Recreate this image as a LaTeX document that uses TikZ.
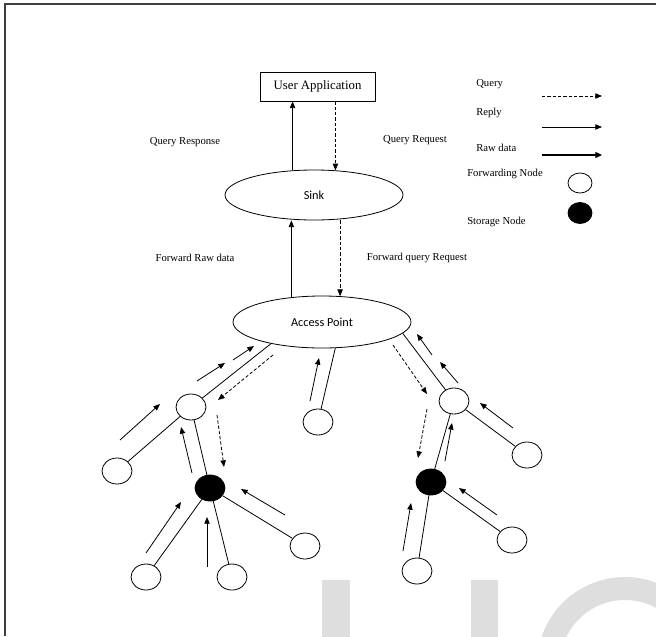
\documentclass[tikz,border=0pt]{standalone}
\usepackage{fontspec}
\setmainfont{Liberation Serif}
\newfontfamily\calib{Carlito}
\usetikzlibrary{shapes.geometric,arrows.meta,calc}
\definecolor{wm}{HTML}{DEDEDE}
\begin{document}
\begin{tikzpicture}[x=0.75pt,y=-0.75pt,
  lab/.style={font=\fontsize{8}{9}\selectfont, inner sep=0},
  fwd/.style={ellipse, draw, line width=0.6pt, minimum width=22.5pt, minimum height=19.5pt, inner sep=0},
  sto/.style={fwd, fill=black},
  edge/.style={line width=0.6pt},
  reply/.style={line width=0.6pt, -{Triangle[length=5pt,width=4pt]}},
  rawd/.style={line width=0.9pt, -{Triangle[length=5pt,width=4.5pt]}},
  query/.style={reply, dash pattern=on 2.5pt off 1.5pt},
  bigell/.style={ellipse, draw, line width=0.6pt, inner sep=0, font=\calib\fontsize{9.2}{11}\selectfont},
]
\useasboundingbox (0,0) rectangle (656,636);
% watermark
\begin{scope}
\clip (0,0) rectangle (656,636);
\fill[wm] (322,580) rectangle (350,640);
\fill[wm] (471,580) rectangle (498,640);
\fill[wm, even odd rule] (625,665) circle[radius=88] (625,665) circle[radius=65];
\end{scope}
% frame
\draw[line width=1.5pt, black!75] (4.5,636) -- (4.5,3.5) -- (656,3.5);

% main nodes
\node[draw, line width=0.6pt, minimum width=86.25pt, minimum height=21.75pt, inner sep=0,
      font=\fontsize{9.6}{11}\selectfont] (ua) at (317.5,86.5) {User Application};
\node[bigell, minimum width=133.5pt, minimum height=37.5pt] (sink) at (314,195) {Sink};
\node[bigell, minimum width=133.5pt, minimum height=39pt] (ap) at (322,322) {Access Point};

\draw[reply] (sink.131) -- (sink.131 |- ua.south);
\draw[query] (sink.49 |- ua.south) -- (sink.49);
\draw[reply] (ap.141) -- (ap.141 |- sink.south);
\draw[query] (ap.55 |- sink.south) -- (ap.55);

\node[lab] (qresp) at (185,142) {Query Response};
\node[lab] (qreq) at (415,140) {Query Request};
\node[lab] (frd) at (195,258) {Forward Raw data};
\node[lab] (fqr) at (417,258) {Forward query Request};

% legend
\node[lab, anchor=west] (lq) at (476,84) {Query};
\node[lab, anchor=west] (lr) at (476,113) {Reply};
\node[lab, anchor=west] (lraw) at (476,148) {Raw data};
\node[lab, anchor=west] (lfn) at (467,174) {Forwarding Node};
\node[lab, anchor=west] (lsn) at (467,222) {Storage Node};
\coordinate (lqt) at (542,96);  \coordinate (lqh) at (602,96);
\coordinate (lrt) at (542,127); \coordinate (lrh) at (602,127);
\coordinate (lwt) at (542,155); \coordinate (lwh) at (602,155);
\draw[query] (lqt) -- (lqh);
\draw[reply] (lrt) -- (lrh);
\draw[rawd] (lwt) -- (lwh);
\node[fwd, minimum width=18pt, minimum height=15pt] (lf) at (580,183) {};
\node[sto, minimum width=18pt, minimum height=15.75pt] (ls) at (580,213) {};

% tree nodes
\node[fwd] (f1) at (191,407) {};
\node[fwd] (f2) at (117,471) {};
\node[sto] (s1) at (210,488) {};
\node[fwd] (f3) at (318,422) {};
\node[fwd] (l1) at (146,577) {};
\node[fwd] (l2) at (232,577) {};
\node[fwd] (l3) at (305,546) {};
\node[fwd] (f4) at (454,401) {};
\node[fwd] (f5) at (527,455) {};
\node[sto] (s2) at (431,482) {};
\node[fwd] (f6) at (512,540) {};
\node[fwd] (f7) at (417,571) {};

\draw[edge] (ap.203) -- (f1);
\draw[edge] (f1) -- (f2);
\draw[edge] (f1) -- (s1);
\draw[edge] (ap.-63) -- (f3);
\draw[edge] (s1) -- (l1);
\draw[edge] (s1) -- (l2);
\draw[edge] (s1) -- (l3);
\draw[edge] (ap.-8) -- (f4);
\draw[edge] (f4) -- (f5);
\draw[edge] (f4) -- (s2);
\draw[edge] (s2) -- (f6);
\draw[edge] (s2) -- (f7);

% flow arrows
\coordinate (a1t) at (197,381); \coordinate (a1h) at (225,363);
\coordinate (a2t) at (233,360); \coordinate (a2h) at (254,346);
\coordinate (d1t) at (273,355); \coordinate (d1h) at (218,400);
\coordinate (a3t) at (120,440); \coordinate (a3h) at (160,404);
\coordinate (a4t) at (192,473); \coordinate (a4h) at (181,427);
\coordinate (d2t) at (217,415); \coordinate (d2h) at (224,467);
\coordinate (a5t) at (310,401); \coordinate (a5h) at (319,358);
\coordinate (a6t) at (146,553); \coordinate (a6h) at (181,502);
\coordinate (a7t) at (207,567); \coordinate (a7h) at (207,517);
\coordinate (a8t) at (285,515); \coordinate (a8h) at (241,489);
\coordinate (a9t) at (458,383); \coordinate (a9h) at (440,362);
\coordinate (a10t) at (432,355); \coordinate (a10h) at (417,334);
\coordinate (d3t) at (393,345); \coordinate (d3h) at (427,394);
\coordinate (a11t) at (513,428); \coordinate (a11h) at (480,403);
\coordinate (a12t) at (445,461); \coordinate (a12h) at (452,423);
\coordinate (d4t) at (427,409); \coordinate (d4h) at (418,458);
\coordinate (a13t) at (497,515); \coordinate (a13h) at (459,488);
\coordinate (a14t) at (403,551); \coordinate (a14h) at (411,503);

\foreach \n in {a1,a2,a3,a4,a5,a6,a7,a8,a9,a10,a11,a12,a13,a14}
  \draw[reply] (\n t) -- (\n h);
\foreach \n in {d1,d2,d3,d4}
  \draw[query] (\n t) -- (\n h);
\end{tikzpicture}
\end{document}
